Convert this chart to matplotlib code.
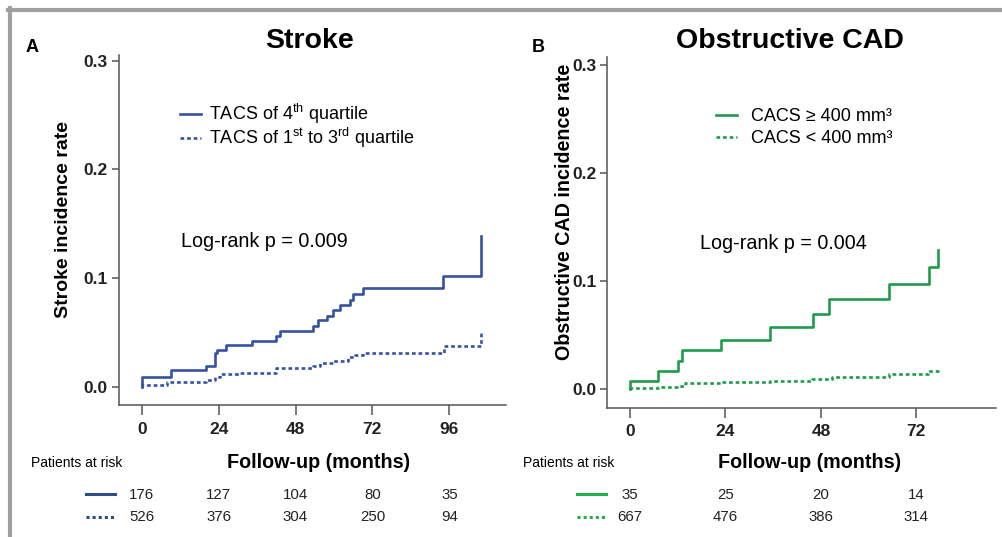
import matplotlib
matplotlib.use("Agg")
import matplotlib.pyplot as plt
from matplotlib.lines import Line2D
import matplotlib.transforms as mtransforms

plt.rcParams['font.family'] = ['Liberation Sans', 'DejaVu Sans']
plt.rcParams['mathtext.fontset'] = 'custom'
plt.rcParams['mathtext.rm'] = 'Liberation Sans'
plt.rcParams['mathtext.it'] = 'Liberation Sans:italic'
plt.rcParams['mathtext.bf'] = 'Liberation Sans:bold'

# Panel A - stroke (cumulative incidence)
stroke_t_hi = [0, 0, 9, 20, 22.9, 23.6, 26.3, 34.3, 41.8, 43.2, 53.4, 55.1, 57.9,
               59.8, 61.9, 65.0, 66.0, 69.0, 93.9, 105.9]
stroke_v_hi = [0, 0.009, 0.015, 0.019, 0.031, 0.034, 0.038, 0.042, 0.047, 0.051,
               0.056, 0.061, 0.065, 0.071, 0.075, 0.080, 0.085, 0.091, 0.102, 0.139]
stroke_t_lo = [0, 0, 7.8, 20, 22.9, 24.4, 30.6, 42, 53.5, 55.6, 59.8, 64.5, 66.6,
               69.2, 94.2, 106, 106]
stroke_v_lo = [0, 0.0015, 0.004, 0.006, 0.009, 0.012, 0.013, 0.017, 0.019, 0.0215,
               0.024, 0.027, 0.029, 0.031, 0.037, 0.040, 0.049]

# Panel B - obstructive CAD
cad_t_hi = [0, 0, 7, 12, 13, 23, 35.2, 46.1, 50.1, 65.2, 75.2, 77.5]
cad_v_hi = [0, 0.008, 0.017, 0.026, 0.036, 0.046, 0.058, 0.070, 0.083, 0.097, 0.113, 0.129]
cad_t_lo = [0, 0, 7, 11.7, 13.8, 23, 35.2, 45.7, 50.8, 65, 75, 77.5]
cad_v_lo = [0, 0.001, 0.0025, 0.0035, 0.0055, 0.0065, 0.008, 0.0095, 0.0115, 0.014,
            0.0165, 0.019]

# patients at risk
stroke_risk_ticks = [0, 24, 48, 72, 96]
stroke_risk_hi = [176, 127, 104, 80, 35]
stroke_risk_lo = [526, 376, 304, 250, 94]
cad_risk_ticks = [0, 24, 48, 72]
cad_risk_hi = [35, 25, 20, 14]
cad_risk_lo = [667, 476, 386, 314]

W, H = 1002, 537
blue = '#3652a2'
green = '#1e9c4a'
dot = (0, (1.4, 1.1))

fig = plt.figure(figsize=(W / 100, H / 100), dpi=100)


def fx(px):
    return px / W


def fy(py):
    return 1 - py / H


def setup_axes(ax, xticks, xlim, ylim):
    ax.set_xlim(*xlim)
    ax.set_ylim(*ylim)
    for s in ['top', 'right']:
        ax.spines[s].set_visible(False)
    for s in ['left', 'bottom']:
        ax.spines[s].set_color('#555555')
        ax.spines[s].set_linewidth(1.1)
    ax.set_xticks(xticks)
    ax.set_yticks([0.0, 0.1, 0.2, 0.3])
    ax.set_yticklabels(['0.0', '0.1', '0.2', '0.3'])
    ax.tick_params(axis='x', length=7, width=1.1, color='#555555', pad=5,
                   labelsize=12.5)
    ax.tick_params(axis='y', length=5, width=1.1, color='#555555', pad=3,
                   labelsize=12.5)
    for lab in ax.get_xticklabels() + ax.get_yticklabels():
        lab.set_fontweight('bold')
        lab.set_color('#222222')


def add_legend(ax, x, y, spacing, textpad):
    ax.legend(loc='upper left', bbox_to_anchor=(x, y), frameon=False,
              fontsize=13, handlelength=1.15, handletextpad=textpad,
              labelspacing=spacing, borderpad=0, borderaxespad=0)


# ---- panel A ----
axA = fig.add_axes([fx(119), fy(405), fx(505.7 - 119), (405 - 55) / H])
axA.step(stroke_t_hi, stroke_v_hi, where='post', color=blue, lw=1.9,
         label=r'TACS of 4$^{\mathrm{th}}$ quartile')
axA.step(stroke_t_lo, stroke_v_lo, where='post', color=blue, lw=1.9, ls=dot,
         label=r'TACS of 1$^{\mathrm{st}}$ to 3$^{\mathrm{rd}}$ quartile')
setup_axes(axA, [0, 24, 48, 72, 96], (-7.1, 113.6), (-0.0169, 0.3054))
add_legend(axA, 0.158, 0.865, 0.0, 0.45)

# ---- panel B ----
axB = fig.add_axes([fx(607.3), fy(407.7), fx(996 - 607.3), (407.7 - 57) / H])
axB.step(cad_t_hi, cad_v_hi, where='post', color=green, lw=1.9,
         label='CACS ≥ 400 mm³')
axB.step(cad_t_lo, cad_v_lo, where='post', color=green, lw=1.9, ls=dot,
         label='CACS < 400 mm³')
setup_axes(axB, [0, 24, 48, 72], (-5.7, 92.0), (-0.017, 0.307))
add_legend(axB, 0.28, 0.855, 0.31, 0.8)

# titles, panel letters, axis labels
fig.text(fx(310), fy(41), 'Stroke', ha='center', va='center', fontsize=20.5,
         fontweight='bold')
fig.text(fx(790), fy(41), 'Obstructive CAD', ha='center', va='center',
         fontsize=20.5, fontweight='bold')
fig.text(fx(32), fy(47), 'A', ha='center', va='center', fontsize=13,
         fontweight='bold')
fig.text(fx(538), fy(47), 'B', ha='center', va='center', fontsize=13,
         fontweight='bold')
fig.text(fx(64), fy(220), 'Stroke incidence rate', rotation=90, ha='center',
         va='center', fontsize=14, fontweight='bold')
fig.text(fx(564), fy(212), 'Obstructive CAD incidence rate', rotation=90,
         ha='center', va='center', fontsize=14.2, fontweight='bold')
fig.text(fx(319), fy(462), 'Follow-up (months)', ha='center', va='center',
         fontsize=14.2, fontweight='bold')
fig.text(fx(810), fy(462), 'Follow-up (months)', ha='center', va='center',
         fontsize=14.2, fontweight='bold')

# log-rank
axA.text(0.160, 0.467, 'Log-rank p = 0.009', transform=axA.transAxes,
         ha='left', va='center', fontsize=14.2)
axB.text(0.238, 0.469, 'Log-rank p = 0.004', transform=axB.transAxes,
         ha='left', va='center', fontsize=14.2)

# patients at risk tables
fig.text(fx(31), fy(463), 'Patients at risk', ha='left', va='center', fontsize=10)
fig.text(fx(523), fy(463), 'Patients at risk', ha='left', va='center', fontsize=10)


def risk_table(ax, ticks, hi, lo, color, x0, x1):
    tr = mtransforms.blended_transform_factory(ax.transData, fig.transFigure)
    for t, a, b in zip(ticks, hi, lo):
        fig.text(t, fy(495), str(a), transform=tr, ha='center', va='center',
                 fontsize=10.8, color='#222222')
        fig.text(t, fy(517), str(b), transform=tr, ha='center', va='center',
                 fontsize=10.8, color='#222222')
    fig.add_artist(Line2D([fx(x0), fx(x1)], [fy(494), fy(494)], color=color,
                          lw=2.2, transform=fig.transFigure))
    fig.add_artist(Line2D([fx(x0), fx(x1)], [fy(517), fy(517)], color=color,
                          lw=2.2, ls=(0, (1, 1)), transform=fig.transFigure))


risk_table(axA, stroke_risk_ticks, stroke_risk_hi, stroke_risk_lo, '#2c4c8c', 86, 115)
risk_table(axB, cad_risk_ticks, cad_risk_hi, cad_risk_lo, '#22b04b', 577, 606)

# grey frame lines at top and left
fig.add_artist(Line2D([fx(8), 1], [fy(10), fy(10)], color='#a0a0a0', lw=3,
                      transform=fig.transFigure))
fig.add_artist(Line2D([fx(10), fx(10)], [fy(8), 0], color='#a0a0a0', lw=3,
                      transform=fig.transFigure))

fig.savefig('out.png', dpi=100)
